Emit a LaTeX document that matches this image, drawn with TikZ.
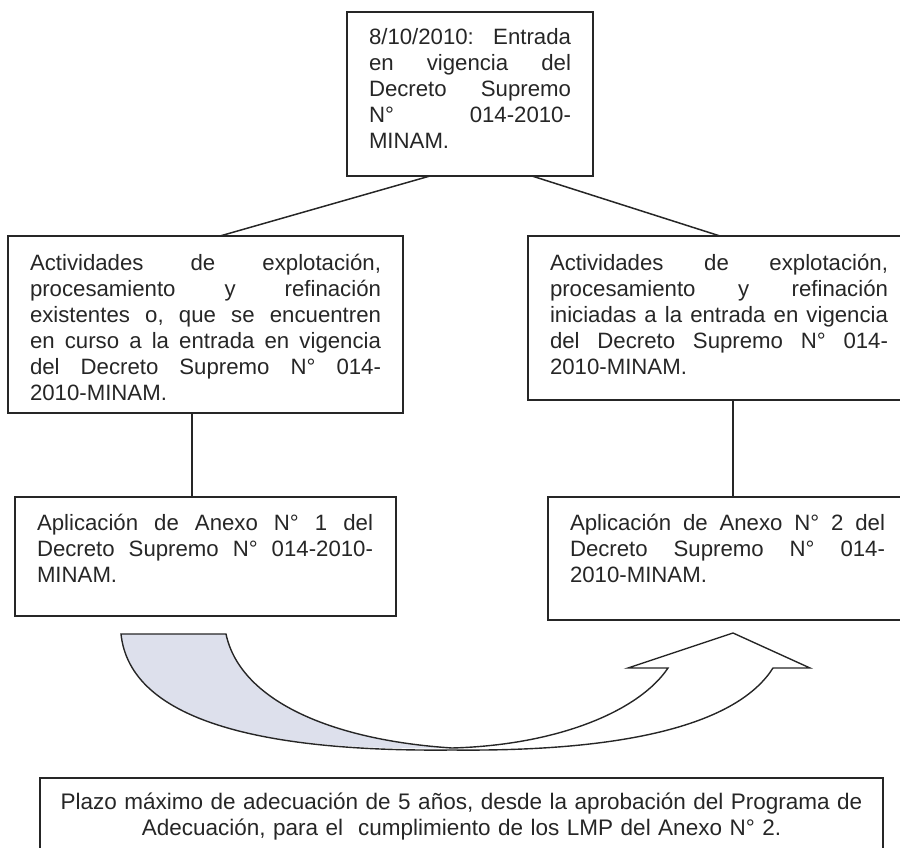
\documentclass[tikz,border=0pt]{standalone}
\usepackage{fontspec}
\setmainfont{Liberation Sans}
\usetikzlibrary{calc}
\definecolor{ink}{HTML}{262626}
\definecolor{tailfill}{RGB}{221,224,236}
\newcommand{\jline}[1]{\parindent=0pt\leavevmode\hbox to \hsize{\spaceskip=0.28em plus 10em\relax #1}}
\frenchspacing
\begin{document}
\begin{tikzpicture}[x=1pt,y=-1pt,
  box/.style={draw=ink, line width=1.8pt, rectangle, inner sep=0pt, outer sep=0pt, anchor=north west},
  txt/.style={inner sep=0pt, outer sep=0pt, anchor=base west, text=ink, align=left,
    font=\fontsize{22.2}{26}\selectfont},
  link/.style={draw=ink, line width=1.5pt}]
\useasboundingbox (0,0) rectangle (900,848);

% boxes
\node[box, minimum width=246pt, minimum height=164pt] (top) at (347,12) {};
\node[box, minimum width=395pt, minimum height=177pt] (left) at (8,236) {};
\node[box, minimum width=382pt, minimum height=164pt] (right) at (528,236) {};
\node[box, minimum width=381pt, minimum height=119pt] (bl) at (15,497) {};
\node[box, minimum width=362pt, minimum height=123pt] (br) at (548,497) {};
\node[box, minimum width=843pt, minimum height=100pt] (bottom) at (40,778) {};

% texts
\node[txt, text width=202pt] (toptext) at (369,45)
  {\jline{8/10/2010: Entrada}\\ \jline{en vigencia del}\\ \jline{Decreto Supremo}\\
   \jline{N° 014-2010-}\\ MINAM.};
\node[txt, text width=351pt] (lefttext) at (30,270)
  {\jline{Actividades de explotación,}\\ \jline{procesamiento y refinación}\\
   \jline{existentes o, que se encuentren}\\ \jline{en curso a la entrada en vigencia}\\
   \jline{del Decreto Supremo N° 014-}\\ 2010-MINAM.};
\node[txt, text width=338pt] (righttext) at (550,270)
  {\jline{Actividades de explotación,}\\ \jline{procesamiento y refinación}\\
   \jline{iniciadas a la entrada en vigencia}\\ \jline{del Decreto Supremo N° 014-}\\
   2010-MINAM.};
\node[txt, text width=336pt] (bltext) at (37,530)
  {\jline{Aplicación de Anexo N° 1 del}\\ \jline{Decreto Supremo N° 014-2010-}\\ MINAM.};
\node[txt, text width=315pt] (brtext) at (570,530)
  {\jline{Aplicación de Anexo N° 2 del}\\ \jline{Decreto Supremo N° 014-}\\ 2010-MINAM.};
\node[inner sep=0pt, outer sep=0pt, anchor=base, align=center, text=ink, text width=840pt,
  font=\fontsize{22.5}{26}\selectfont] (bottomtext) at (461.5,809)
  {Plazo máximo de adecuación de 5 años, desde la aprobación del Programa de\\
   Adecuación, para el\ \ cumplimiento de los LMP del Anexo N° 2.};

% connectors
\draw[link] ([xshift=83pt]top.south west) -- ([xshift=212pt]left.north west);
\draw[link] ([xshift=185pt]top.south west) -- ([xshift=192pt]right.north west);
\draw[link] ([xshift=184pt]left.south west) -- ([xshift=177pt]bl.north west);
\draw[link] ([xshift=205pt]right.south west) -- ([xshift=185pt]br.north west);

% curved arrow
\fill[tailfill] (121,634) -- (226,634) .. controls (240,700) and (330,740) .. (452,748)
   .. controls (260,752) and (130,720) .. (121,634) -- cycle;
\draw[ink, line width=1.4pt, line join=miter]
   (121,634) -- (226,634) .. controls (240,700) and (330,740) .. (452,748)
   .. controls (560,745) and (640,710) .. (668,668) -- (628,668) -- (733,633)
   -- (810,668) -- (773,668) .. controls (740,720) and (640,752) .. (452,750)
   .. controls (260,752) and (130,720) .. (121,634) -- cycle;
\end{tikzpicture}
\end{document}
